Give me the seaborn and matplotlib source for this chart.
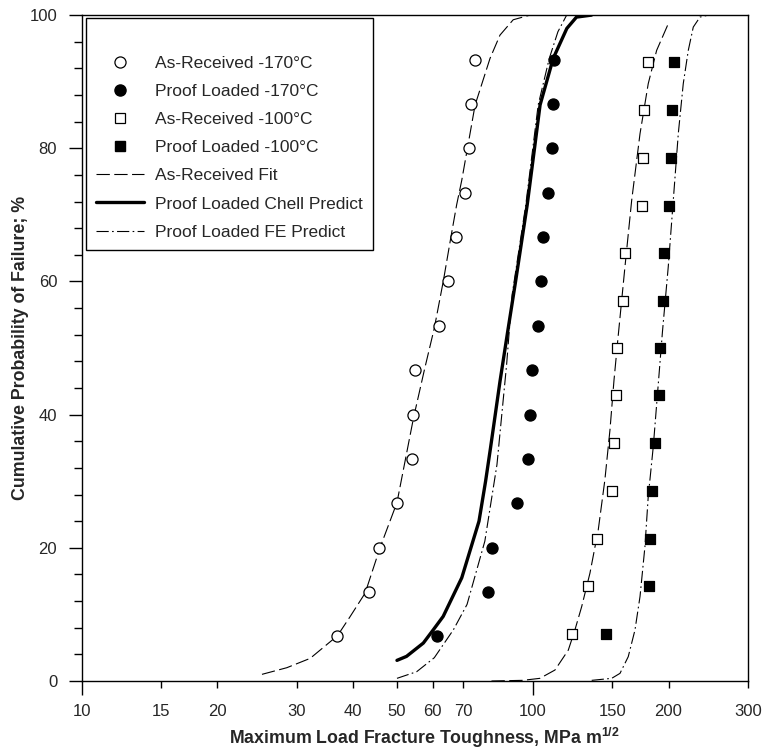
import matplotlib
matplotlib.use("Agg")
import matplotlib.pyplot as plt
from matplotlib.lines import Line2D
from matplotlib.ticker import FixedLocator, FixedFormatter, MultipleLocator
import pandas as pd
import seaborn as sns

# ---- measured toughness values (MPa m^1/2) and cumulative failure probability (%) ----
prob_170 = [6.7, 13.3, 20.0, 26.7, 33.3, 40.0, 46.7, 53.3, 60.0, 66.7, 73.3, 80.0, 86.7, 93.3]
k_as_received_170 = [36.9, 43.4, 45.6, 50.0, 53.9, 54.4, 54.7, 61.9, 64.8, 67.6, 70.8, 72.2, 73.1, 74.5]
k_proof_loaded_170 = [61.3, 79.4, 81.3, 92.2, 97.6, 98.4, 99.7, 102.6, 104.5, 105.6, 108.2, 110.5, 111.0, 111.4]

prob_100 = [7.1, 14.3, 21.4, 28.6, 35.7, 42.9, 50.0, 57.1, 64.3, 71.4, 78.6, 85.7, 92.9]
k_as_received_100 = [122.4, 132.3, 139.0, 150.1, 151.1, 153.1, 153.9, 158.7, 160.1, 174.9, 175.8, 176.4, 180.3]
k_proof_loaded_100 = [145.3, 180.7, 181.6, 183.4, 186.6, 190.7, 191.4, 194.1, 195.6, 200.4, 202.2, 203.8, 205.9]

# ---- fitted / predicted distributions ----
fit_ar170_k = [25.1, 28.5, 32.1, 36.9, 39.3, 42.5, 45.9, 50.0, 54.4, 57.5, 60.5, 62.3, 63.4,
               65.9, 67.8, 69.6, 74.5, 80.4, 84.6, 90.5, 98.6]
fit_ar170_p = [1.0, 2.0, 3.4, 6.8, 9.6, 13.2, 20.1, 26.8, 39.5, 46.7, 53.0, 57.5, 60.2,
               66.8, 71.5, 75.2, 86.5, 93.5, 97.0, 99.3, 100.0]

chell_170_k = [50.0, 52.5, 57.2, 60.2, 63.3, 69.6, 76.0, 78.6, 80.6, 84.6, 88.0, 91.6, 97.2,
               100.9, 103.8, 111.0, 119.0, 125.0, 135.0]
chell_170_p = [3.1, 3.7, 5.7, 7.7, 9.7, 15.5, 24.0, 30.0, 35.0, 45.0, 52.5, 60.0, 71.5,
               80.0, 86.5, 93.5, 98.0, 99.7, 100.0]

fe_170_k = [50.0, 55.3, 60.5, 66.7, 71.5, 78.3, 83.3, 87.5, 90.0, 96.5, 102.8, 108.8, 113.7, 118.9, 125.0]
fe_170_p = [0.4, 1.4, 3.5, 7.7, 11.5, 21.0, 32.5, 47.5, 58.0, 71.5, 86.5, 93.5, 97.5, 100.0, 100.0]

fit_ar100_k = [81.0, 95.0, 103.7, 112.0, 119.9, 124.0, 128.4, 133.9, 139.7, 144.5, 148.3, 151.4,
               154.5, 160.1, 165.7, 172.9, 180.3, 188.2, 199.7]
fit_ar100_p = [0.0, 0.1, 0.4, 1.65, 4.65, 7.66, 11.2, 16.2, 22.7, 30.2, 37.7, 45.2,
               51.5, 62.2, 72.2, 82.2, 89.7, 94.7, 98.7]

fe_100_k = [135.1, 149.6, 156.1, 162.8, 168.5, 172.9, 177.3, 180.3, 185.0, 188.8, 193.9, 199.7,
            204.9, 210.2, 215.6, 221.2, 226.9, 234.8, 244.9]
fe_100_p = [0.1, 0.4, 1.15, 3.65, 7.66, 12.7, 20.2, 27.7, 35.2, 42.7, 52.5, 62.2,
            72.2, 82.2, 89.7, 94.7, 98.2, 99.7, 100.0]

x_ticks_major = [10, 100]
x_ticks_minor = [15, 20, 30, 40, 50, 60, 70, 150, 200, 300]

legend_labels = ["As-Received -170\u00b0C", "Proof Loaded -170\u00b0C",
                 "As-Received -100\u00b0C", "Proof Loaded -100\u00b0C",
                 "As-Received Fit", "Proof Loaded Chell Predict", "Proof Loaded FE Predict"]

# ---- styling ----
sns.set_style("ticks")
plt.rcParams["font.family"] = ["Liberation Sans", "DejaVu Sans"]
plt.rcParams["mathtext.fontset"] = "custom"
plt.rcParams["mathtext.rm"] = "Liberation Sans"
plt.rcParams["mathtext.bf"] = "Liberation Sans:bold"

DASHED = (0, (12, 4))
DASHDOT = (0, (11, 3, 1.5, 3))

fig = plt.figure(figsize=(7.67, 7.55), dpi=100)
ax = fig.add_axes([0.1065, 0.098, 0.8687, 0.882])


def curve(k, p, ls, lw):
    df = pd.DataFrame({"K": k, "P": p})
    sns.lineplot(data=df, x="K", y="P", ax=ax, sort=False, estimator=None,
                 color="black", linestyle=ls, linewidth=lw, zorder=2)


curve(fit_ar170_k, fit_ar170_p, DASHED, 0.8)
curve(fit_ar100_k, fit_ar100_p, DASHED, 0.8)
curve(chell_170_k, chell_170_p, "-", 2.4)
curve(fe_170_k, fe_170_p, DASHDOT, 0.8)
curve(fe_100_k, fe_100_p, DASHDOT, 0.8)


def points(k, p, marker, face, size):
    sns.scatterplot(x=k, y=p, ax=ax, marker=marker, s=size, color=face,
                    edgecolor="black", linewidth=0.9, zorder=3)


points(k_as_received_170, prob_170, "o", "white", 64)
points(k_proof_loaded_170, prob_170, "o", "black", 64)
points(k_as_received_100, prob_100, "s", "white", 52)
points(k_proof_loaded_100, prob_100, "s", "black", 52)

# ---- axes ----
ax.set_xscale("log")
ax.set_xlim(10, 300)
ax.set_ylim(0, 100)
ax.xaxis.set_major_locator(FixedLocator(x_ticks_major))
ax.xaxis.set_major_formatter(FixedFormatter([str(v) for v in x_ticks_major]))
ax.xaxis.set_minor_locator(FixedLocator(x_ticks_minor))
ax.xaxis.set_minor_formatter(FixedFormatter([str(v) for v in x_ticks_minor]))
ax.yaxis.set_major_locator(MultipleLocator(20))
ax.yaxis.set_minor_locator(MultipleLocator(4))

ax.tick_params(axis="x", which="major", length=10, width=1, pad=6.5, labelsize=12, color="black")
ax.tick_params(axis="x", which="minor", length=5, width=1, pad=11.5, labelsize=12, color="black")
ax.tick_params(axis="y", which="major", length=9.6, width=1, pad=8, labelsize=12, color="black")
ax.tick_params(axis="y", which="minor", length=5.5, width=1, color="black")

for side in ["left", "right", "top", "bottom"]:
    ax.spines[side].set_visible(True)
    ax.spines[side].set_color("black")
    ax.spines[side].set_linewidth(1.0)

ax.set_xlabel(r"Maximum Load Fracture Toughness, MPa m$^{\mathbf{1/2}}$",
              fontsize=12.8, fontweight="bold")
ax.set_ylabel("Cumulative Probability of Failure; %", fontsize=12.8, fontweight="bold")
ax.xaxis.set_label_coords(0.515, -0.086)
ax.xaxis.label.set_verticalalignment("center")
ax.yaxis.set_label_coords(-0.092, 0.5)
ax.yaxis.label.set_verticalalignment("center")

# ---- legend ----
handles = [
    Line2D([], [], linestyle="none", marker="o", markersize=8, markerfacecolor="white",
           markeredgecolor="black", markeredgewidth=0.9),
    Line2D([], [], linestyle="none", marker="o", markersize=8, markerfacecolor="black",
           markeredgecolor="black"),
    Line2D([], [], linestyle="none", marker="s", markersize=7.2, markerfacecolor="white",
           markeredgecolor="black", markeredgewidth=0.9),
    Line2D([], [], linestyle="none", marker="s", markersize=7.2, markerfacecolor="black",
           markeredgecolor="black"),
    Line2D([], [], color="black", linestyle=DASHED, linewidth=0.8),
    Line2D([], [], color="black", linestyle="-", linewidth=2.4),
    Line2D([], [], color="black", linestyle=DASHDOT, linewidth=0.8),
]
leg = ax.legend(handles, legend_labels, loc="upper left", bbox_to_anchor=(0.0065, 0.9955),
                borderaxespad=0, fontsize=12.5, title=" ", title_fontsize=10,
                frameon=True, fancybox=False, edgecolor="black", framealpha=1,
                handlelength=2.75, handletextpad=0.6, borderpad=0.6, labelspacing=0.75)
leg.get_frame().set_linewidth(1.0)

fig.savefig("out.png", dpi=100)
